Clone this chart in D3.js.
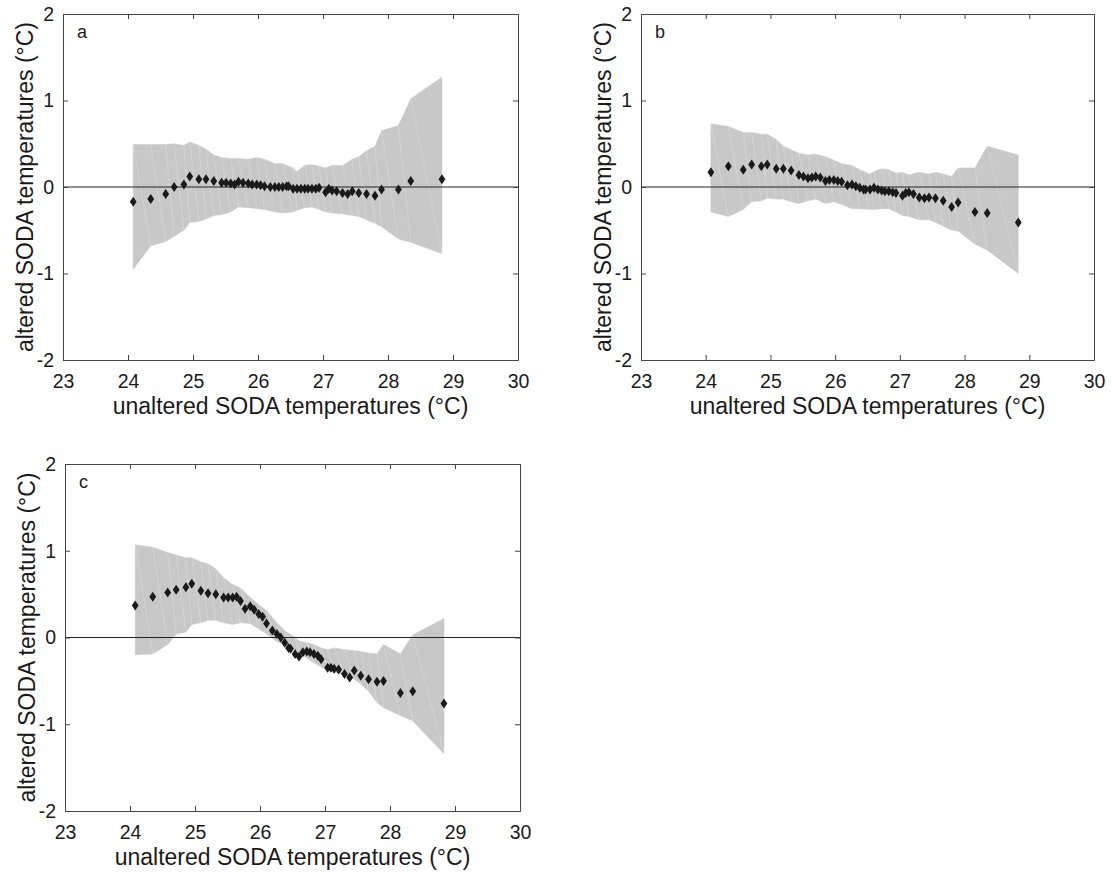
<!DOCTYPE html>
<html>
<head>
<meta charset="utf-8">
<script src="https://cdn.jsdelivr.net/npm/d3@7"></script>
<style>
  body { margin: 0; background: #fff; }
  svg { font-family: "Liberation Sans", Arial, Helvetica, sans-serif; }
  .tick text { fill: #1a1a1a; }
</style>
</head>
<body>
<div id="vis"></div>
<script>
const FRAME_WIDTH = 1112;
const FRAME_HEIGHT = 873;

// shared temperatures of the binned points (°C)
const temps = [24.08, 24.35, 24.58, 24.71, 24.86, 24.95, 25.09, 25.20, 25.32, 25.44,
               25.51, 25.58, 25.64, 25.70, 25.77, 25.85, 25.91, 25.98, 26.04, 26.10,
               26.19, 26.26, 26.32, 26.38, 26.44, 26.47, 26.54, 26.60, 26.66, 26.72,
               26.77, 26.83, 26.89, 26.94, 27.04, 27.09, 27.14, 27.21, 27.30, 27.38,
               27.45, 27.55, 27.67, 27.80, 27.90, 28.16, 28.35, 28.83];

const meanA = [-0.17, -0.14, -0.08, 0.00, 0.03, 0.12, 0.09, 0.09, 0.07, 0.05,
               0.05, 0.04, 0.03, 0.06, 0.05, 0.04, 0.03, 0.03, 0.02, 0.01,
               0.00, 0.00, 0.00, 0.00, 0.01, 0.01, -0.02, -0.02, -0.02, -0.02,
               -0.02, -0.02, -0.02, -0.01, -0.06, -0.02, -0.04, -0.05, -0.07, -0.08,
               -0.05, -0.07, -0.08, -0.10, -0.03, -0.03, 0.07, 0.09];

const meanB = [0.17, 0.24, 0.20, 0.26, 0.24, 0.26, 0.21, 0.21, 0.19, 0.14,
               0.12, 0.10, 0.11, 0.12, 0.11, 0.07, 0.08, 0.08, 0.07, 0.06,
               0.02, 0.03, 0.01, -0.01, -0.03, -0.03, -0.03, -0.01, -0.03, -0.04,
               -0.05, -0.05, -0.06, -0.07, -0.10, -0.07, -0.06, -0.08, -0.12, -0.13,
               -0.12, -0.13, -0.16, -0.23, -0.18, -0.29, -0.30, -0.41];

const meanC = [0.37, 0.47, 0.52, 0.55, 0.58, 0.62, 0.54, 0.51, 0.50, 0.46,
               0.46, 0.46, 0.47, 0.42, 0.33, 0.36, 0.32, 0.27, 0.24, 0.16,
               0.08, 0.04, 0.00, -0.06, -0.12, -0.13, -0.19, -0.22, -0.17, -0.16,
               -0.17, -0.19, -0.21, -0.25, -0.35, -0.35, -0.36, -0.37, -0.42, -0.46,
               -0.38, -0.44, -0.48, -0.51, -0.50, -0.64, -0.62, -0.76];

// envelope (grey band) vertices
const bandTemps = [24.08, 24.35, 24.58, 24.71, 24.86, 24.95, 25.09, 25.20, 25.32, 25.44,
                   25.58, 25.70, 25.85, 25.98, 26.10, 26.26, 26.38, 26.54, 26.60, 26.72,
                   26.83, 26.94, 27.04, 27.14, 27.30, 27.45, 27.55, 27.67, 27.80, 27.90,
                   28.16, 28.35, 28.83];

const upperA = [0.49, 0.49, 0.49, 0.50, 0.48, 0.52, 0.48, 0.44, 0.37, 0.34,
                0.33, 0.33, 0.32, 0.34, 0.32, 0.27, 0.27, 0.22, 0.18, 0.25,
                0.26, 0.24, 0.22, 0.25, 0.25, 0.32, 0.35, 0.42, 0.47, 0.65,
                0.71, 1.02, 1.27];
const lowerA = [-0.95, -0.68, -0.63, -0.57, -0.50, -0.41, -0.40, -0.37, -0.33, -0.32,
                -0.29, -0.23, -0.24, -0.25, -0.26, -0.29, -0.30, -0.29, -0.27, -0.24,
                -0.23, -0.26, -0.29, -0.30, -0.31, -0.33, -0.34, -0.38, -0.42, -0.46,
                -0.60, -0.64, -0.77];

const upperB = [0.73, 0.70, 0.63, 0.63, 0.61, 0.61, 0.55, 0.47, 0.43, 0.39,
                0.37, 0.38, 0.35, 0.31, 0.27, 0.25, 0.20, 0.15, 0.18, 0.21,
                0.20, 0.16, 0.17, 0.14, 0.17, 0.15, 0.17, 0.15, 0.12, 0.22,
                0.22, 0.47, 0.37];
const lowerB = [-0.29, -0.34, -0.26, -0.17, -0.16, -0.13, -0.14, -0.14, -0.17, -0.19,
                -0.16, -0.14, -0.19, -0.17, -0.20, -0.25, -0.25, -0.26, -0.26, -0.25,
                -0.25, -0.29, -0.33, -0.34, -0.38, -0.38, -0.41, -0.45, -0.50, -0.51,
                -0.66, -0.73, -1.00];

const upperC = [1.07, 1.04, 0.98, 0.95, 0.92, 0.92, 0.87, 0.85, 0.79, 0.69,
                0.61, 0.57, 0.46, 0.38, 0.31, 0.17, 0.08, 0.00, -0.04, -0.06,
                -0.08, -0.12, -0.14, -0.12, -0.14, -0.15, -0.16, -0.18, -0.19, -0.08,
                -0.19, 0.03, 0.22];
const lowerC = [-0.20, -0.19, -0.08, 0.04, 0.06, 0.15, 0.17, 0.20, 0.20, 0.17,
                0.15, 0.17, 0.16, 0.10, 0.04, -0.05, -0.08, -0.14, -0.17, -0.24,
                -0.29, -0.34, -0.38, -0.40, -0.43, -0.48, -0.54, -0.62, -0.75, -0.81,
                -0.90, -0.96, -1.34];

const xTicks = [23, 24, 25, 26, 27, 28, 29, 30];
const yTicks = [-2, -1, 0, 1, 2];
const X_LABEL = "unaltered SODA temperatures (°C)";
const Y_LABEL = "altered SODA temperatures (°C)";

const PANELS = [
  {label: "a", left: 63,  top: 14,  width: 455, height: 346, mean: meanA, upper: upperA, lower: lowerA},
  {label: "b", left: 641, top: 14,  width: 453, height: 346, mean: meanB, upper: upperB, lower: lowerB},
  {label: "c", left: 65,  top: 464, width: 455, height: 347, mean: meanC, upper: upperC, lower: lowerC}
];

const SVG = d3.select("#vis")
              .append("svg")
                .attr("width", FRAME_WIDTH)
                .attr("height", FRAME_HEIGHT);

const AXIS_COLOR = "#444";

function drawPanel(p) {
    const X_SCALE = d3.scaleLinear().domain([23, 30]).range([0, p.width]);
    const Y_SCALE = d3.scaleLinear().domain([-2, 2]).range([p.height, 0]);

    const G = SVG.append("g")
                 .attr("transform", "translate(" + p.left + "," + p.top + ")");

    const band = bandTemps.map((t, i) => ({t: t, hi: p.upper[i], lo: p.lower[i]}));

    // grey envelope
    G.append("path")
        .datum(band)
        .attr("d", d3.area()
                     .x(d => X_SCALE(d.t))
                     .y0(d => Y_SCALE(d.lo))
                     .y1(d => Y_SCALE(d.hi)))
        .attr("fill", "#c8c8c8")
        .attr("stroke", "#c8c8c8")
        .attr("stroke-width", 0.5);

    // faint patch seams like the original rendering
    G.selectAll(".seam")
        .data(band.slice(0, -1))
        .enter()
        .append("line")
          .attr("class", "seam")
          .attr("x1", d => X_SCALE(d.t))
          .attr("y1", d => Y_SCALE(d.hi))
          .attr("x2", (d, i) => X_SCALE(band[i + 1].t))
          .attr("y2", (d, i) => Y_SCALE(band[i + 1].lo))
          .attr("stroke", "#fff")
          .attr("stroke-opacity", 0.35)
          .attr("stroke-width", 0.6);

    // zero line
    G.append("line")
        .attr("x1", X_SCALE(23)).attr("x2", X_SCALE(30))
        .attr("y1", Y_SCALE(0)).attr("y2", Y_SCALE(0))
        .attr("stroke", "#222")
        .attr("stroke-width", 1);

    // diamonds
    G.selectAll(".pt")
        .data(temps.map((t, i) => ({t: t, v: p.mean[i]})))
        .enter()
        .append("path")
          .attr("class", "pt")
          .attr("d", "M0,-5L3.4,0L0,5L-3.4,0Z")
          .attr("transform", d => "translate(" + X_SCALE(d.t) + "," + Y_SCALE(d.v) + ")")
          .attr("fill", "#1a1a1a");

    // axes (box with inward ticks)
    const bottom = G.append("g")
        .attr("transform", "translate(0," + p.height + ")")
        .call(d3.axisBottom(X_SCALE).tickValues(xTicks).tickSizeInner(-5).tickSizeOuter(0)
                .tickPadding(14).tickFormat(d3.format("d")))
        .attr("font-size", "19.5px")
        .attr("font-family", null);
    const left = G.append("g")
        .call(d3.axisLeft(Y_SCALE).tickValues(yTicks).tickSizeInner(-5).tickSizeOuter(0)
                .tickPadding(9).tickFormat(d3.format("d")))
        .attr("font-size", "19.5px")
        .attr("font-family", null);
    const top = G.append("g")
        .call(d3.axisTop(X_SCALE).tickValues(xTicks).tickSizeInner(-5).tickSizeOuter(0).tickFormat(""));
    const right = G.append("g")
        .attr("transform", "translate(" + p.width + ",0)")
        .call(d3.axisRight(Y_SCALE).tickValues(yTicks).tickSizeInner(-5).tickSizeOuter(0).tickFormat(""));

    [bottom, left, top, right].forEach(a => {
        a.selectAll(".domain, .tick line").attr("stroke", AXIS_COLOR);
    });
    // minus signs as plain hyphens, as in the original
    left.selectAll(".tick text").text(d => String(d));

    // panel letter
    G.append("text")
        .attr("x", 14)
        .attr("y", 24)
        .attr("font-size", "18px")
        .attr("fill", "#1a1a1a")
        .text(p.label);

    // axis titles
    G.append("text")
        .attr("x", p.width / 2)
        .attr("y", p.height + 54)
        .attr("text-anchor", "middle")
        .attr("font-size", "23px")
        .attr("fill", "#1a1a1a")
        .text(X_LABEL);

    G.append("text")
        .attr("transform", "translate(-30," + (p.height / 2) + ") rotate(-90)")
        .attr("text-anchor", "middle")
        .attr("font-size", "23px")
        .attr("fill", "#1a1a1a")
        .text(Y_LABEL);
}

PANELS.forEach(drawPanel);
</script>
</body>
</html>
